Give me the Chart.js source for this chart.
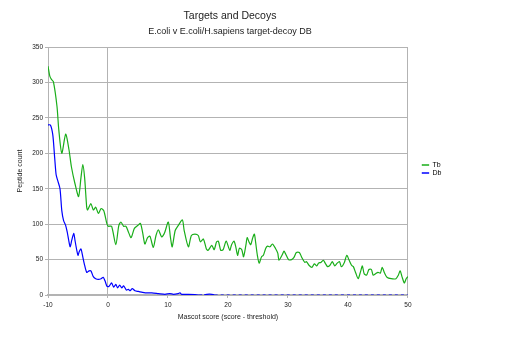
<!DOCTYPE html>
<html>
<head>
<meta charset="utf-8">
<script src="https://cdn.jsdelivr.net/npm/chart.js@4/dist/chart.umd.min.js"></script>
<style>
  html, body { margin: 0; padding: 0; background: #ffffff; }
  #wrap { width: 517px; height: 338px; position: relative; }
</style>
</head>
<body>
<div id="wrap"><canvas id="chart"></canvas></div>
<script>
// Target hits (Tb): Mascot score relative to threshold, and peptide count
const tbScore = [-10, -9.7, -9.4, -9.1, -8.5, -8.2, -7.7, -7.05, -6.5, -6.1, -5.5, -4.9, -4.5, -4.2, -3.9, -3.55, -3.4, -2.85, -2.45, -2.05, -1.6, -1.15, -0.7, -0.2, 0.05, 0.6, 1.3, 1.8, 2.15, 2.6, 3.0, 3.4, 3.85, 4.4, 4.95, 5.4, 5.8, 6.15, 6.6, 7.0, 7.55, 8.0, 8.4, 8.95, 9.4, 10.05, 10.4, 10.7, 11.2, 11.7, 12.4, 12.7, 13.4, 13.9, 14.5, 15.05, 15.4, 15.9, 16.4, 16.7, 17.3, 17.7, 18.1, 18.4, 18.8, 19.2, 19.7, 20.3, 20.6, 21.0, 21.3, 21.6, 21.9, 22.3, 22.6, 23.0, 23.2, 23.5, 23.8, 24.1, 24.4, 24.6, 24.9, 25.2, 25.6, 25.9, 26.3, 26.6, 27.0, 27.4, 27.9, 28.3, 28.5, 29.0, 29.35, 29.6, 30.1, 30.6, 31.0, 31.4, 31.9, 32.3, 32.8, 33.1, 33.5, 34.0, 34.4, 34.8, 35.1, 35.5, 35.9, 36.2, 36.6, 37.0, 37.4, 37.8, 38.2, 38.6, 38.9, 39.4, 39.8, 40.2, 40.6, 40.9, 41.3, 41.7, 42.1, 42.4, 42.7, 43.1, 43.5, 43.9, 44.2, 44.6, 45.0, 45.4, 45.7, 46.1, 46.5, 47.2, 48.0, 48.4, 48.7, 49.0, 49.4, 49.7, 50];
const tbCount = [323, 309, 304, 301, 266, 233, 200, 227, 205, 181, 157, 139, 166, 184, 166, 124, 120, 129, 120, 124, 115, 122, 119, 101, 97, 97, 71, 98, 103, 97, 97, 89, 81, 94, 98, 101, 87, 72, 81, 83, 67, 84, 92, 82, 87, 103, 82, 68, 91, 98, 106, 91, 68, 84, 86, 84, 75, 79, 65, 63, 70, 64, 75, 76, 63, 64, 76, 63, 71, 76, 68, 56, 66, 64, 54, 71, 81, 75, 71, 80, 86, 75, 56, 45, 54, 56, 66, 69, 68, 72, 66, 59, 49, 56, 62, 58, 50, 50, 53, 60, 60, 53, 46, 47, 42, 39, 44, 41, 45, 46, 49, 45, 40, 42, 47, 41, 45, 47, 40, 46, 56, 49, 42, 40, 31, 23, 33, 41, 30, 28, 36, 36, 28, 30, 32, 31, 39, 31, 25, 23, 23, 28, 34, 26, 17, 23, 26];

// Decoy hits (Db)
const dbScore = [-10, -9.6, -9.2, -8.9, -8.65, -8.4, -8.0, -7.7, -7.4, -7.05, -6.8, -6.5, -6.3, -6.05, -5.7, -5.5, -5.2, -5.0, -4.8, -4.5, -4.3, -3.95, -3.55, -3.15, -2.85, -2.45, -2.05, -1.6, -1.15, -0.8, -0.5, -0.15, 0.15, 0.6, 0.95, 1.3, 1.6, 1.95, 2.3, 2.6, 3.05, 3.4, 3.7, 4.05, 4.5, 5.05, 5.6, 6.2, 7.3, 8.4, 9.5, 10.3, 10.9, 11.7, 12.0, 12.3, 13.4, 14.5, 15.2, 16.0, 16.5, 17.3, 17.8, 50];
const dbCount = [240, 240, 226, 195, 170, 162, 150, 119, 105, 98, 89, 75, 68, 77, 87, 77, 63, 56, 61, 65, 58, 44, 32, 34, 34, 26, 23, 22, 23, 25, 20, 12, 12, 17, 11, 15, 10, 14, 10, 13, 7, 8, 6, 9, 6, 5, 4, 3, 3, 2, 1, 2, 1, 2, 3, 1, 1, 0.5, 0, 0, 1, 1, 0, 0];

const seriesNames = ['Tb', 'Db'];
const seriesColors = ['#1aae1a', '#0000ff'];

const xTickStep = 10;
const yTickStep = 50;

const GRID = '#b3b3b3';
const TEXT = '#222222';
const FONT = '"Liberation Sans", Arial, sans-serif';

function toPoints(xs, ys) {
  return xs.map((x, i) => ({ x: x, y: ys[i] }));
}

new Chart(document.getElementById('chart'), {
  type: 'line',
  data: {
    datasets: [
      {
        label: seriesNames[0],
        data: toPoints(tbScore, tbCount),
        borderColor: seriesColors[0],
        backgroundColor: seriesColors[0],
        borderWidth: 1.2,
        pointRadius: 0,
        tension: 0.25,
        fill: false
      },
      {
        label: seriesNames[1],
        data: toPoints(dbScore, dbCount),
        borderColor: seriesColors[1],
        backgroundColor: seriesColors[1],
        borderWidth: 1.2,
        pointRadius: 0,
        tension: 0.25,
        fill: false,
        segment: {
          // stretches lying on the zero line are drawn broken
          borderDash: ctx => (ctx.p0.parsed.y === 0 && ctx.p1.parsed.y === 0) ? [3, 3] : undefined
        }
      }
    ]
  },
  options: {
    responsive: true,
    maintainAspectRatio: false,
    animation: false,
    layout: { padding: { top: 0, left: 8.6, right: 65.6, bottom: 0 } },
    font: { family: FONT },
    plugins: {
      title: {
        display: true,
        text: 'Targets and Decoys',
        color: TEXT,
        font: { family: FONT, size: 10.5, weight: 'normal' },
        padding: { top: 9.4, bottom: 2 }
      },
      subtitle: {
        display: true,
        text: 'E.coli v E.coli/H.sapiens target-decoy DB',
        color: TEXT,
        font: { family: FONT, size: 9, weight: 'normal' },
        padding: { top: 2.6, bottom: 9.6 }
      },
      legend: {
        display: true,
        position: 'right',
        align: 'center',
        labels: {
          color: '#000000',
          font: { family: FONT, size: 7 },
          boxWidth: 7,
          boxHeight: 1,
          padding: 1,
          generateLabels: chart => chart.data.datasets.map((ds, i) => ({
            text: ds.label,
            fillStyle: ds.borderColor,
            strokeStyle: ds.borderColor,
            lineWidth: 0.5,
            hidden: false,
            datasetIndex: i
          }))
        }
      },
      tooltip: { enabled: false }
    },
    scales: {
      x: {
        type: 'linear',
        min: -10,
        max: 50,
        afterFit: s => { s.height = 43; },
        ticks: {
          stepSize: xTickStep,
          color: TEXT,
          font: { family: FONT, size: 6.5 },
          padding: 3,
          maxRotation: 0
        },
        grid: {
          color: c => (c.tick && (c.tick.value === 0 || c.tick.value === 50)) ? GRID : 'rgba(0,0,0,0)',
          tickColor: GRID,
          tickLength: 3,
          lineWidth: 1
        },
        border: { display: true, color: GRID, width: 2 },
        title: {
          display: true,
          text: 'Mascot score (score - threshold)',
          color: TEXT,
          font: { family: FONT, size: 7 },
          padding: { top: 0, bottom: 16.8 }
        }
      },
      y: {
        type: 'linear',
        min: 0,
        max: 350,
        afterFit: s => { s.width = 39.4; },
        ticks: {
          stepSize: yTickStep,
          color: TEXT,
          font: { family: FONT, size: 6.5 },
          padding: 2
        },
        grid: {
          color: GRID,
          tickColor: GRID,
          tickLength: 3,
          lineWidth: 1
        },
        border: { display: true, color: GRID, width: 1 },
        title: {
          display: true,
          text: 'Peptide count',
          color: TEXT,
          font: { family: FONT, size: 7 },
          padding: { top: 7.7, bottom: 0 }
        }
      },
      // empty spacer between the plot and the legend
      gap: {
        type: 'linear',
        axis: 'y',
        position: 'right',
        display: true,
        afterFit: s => { s.width = 13; },
        ticks: { display: false },
        grid: { display: false, drawTicks: false },
        border: { display: false }
      }
    }
  }
});
</script>
</body>
</html>
